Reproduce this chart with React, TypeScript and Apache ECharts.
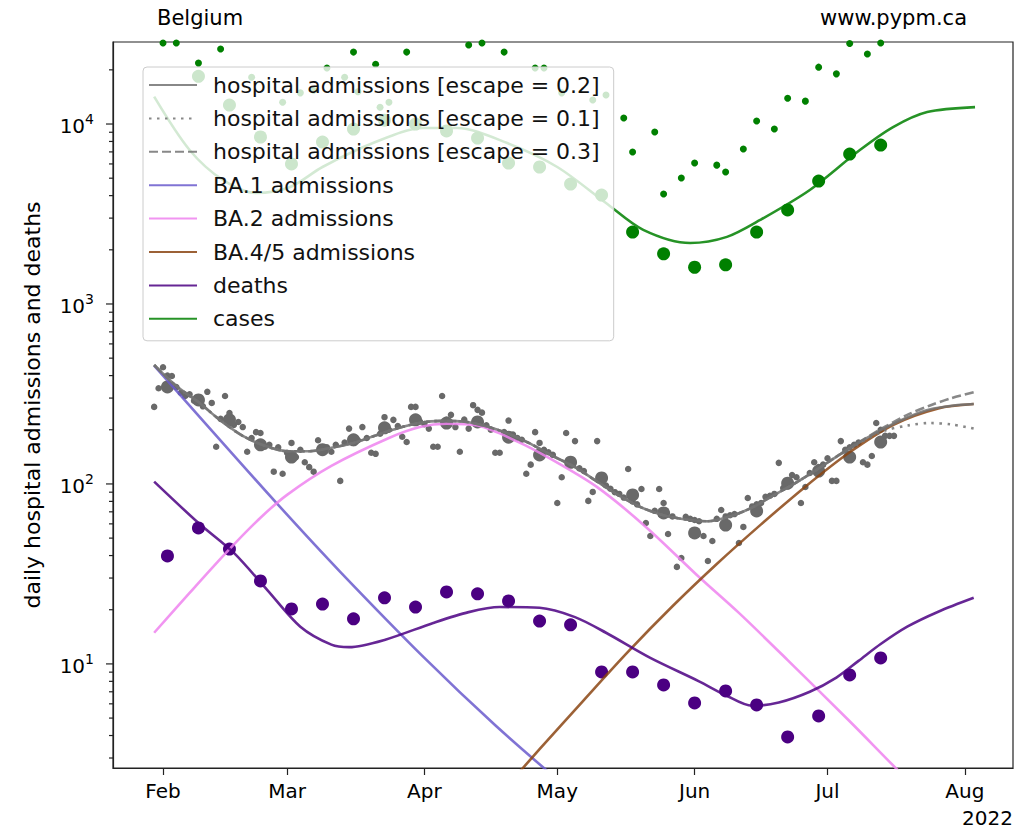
import React, { useEffect, useRef } from 'react';
import * as echarts from 'echarts';

const FONT = 'DejaVu Sans';
const DAY = 86400000;
const T0 = Date.UTC(2022, 1, 1); // day 0 = 1 Feb 2022
const at = (d: number) => T0 + d * DAY;

// axis ranges
const X_MIN_DAY = -11.29;
const X_MAX_DAY = 191.87;
const Y_MIN = 2.64;
const Y_MAX = 28560;
const MONTHS = ['Jan', 'Feb', 'Mar', 'Apr', 'May', 'Jun', 'Jul', 'Aug', 'Sep', 'Oct', 'Nov', 'Dec'];
const MAJOR_TICKS = [10, 100, 1000, 10000];
const MINOR_TICKS = [3, 4, 5, 6, 7, 8, 9, 20, 30, 40, 50, 60, 70, 80, 90, 200, 300, 400, 500, 600, 700, 800, 900,
  2000, 3000, 4000, 5000, 6000, 7000, 8000, 9000, 20000];

// legend names
const N_ESC2 = 'hospital admissions [escape = 0.2]';
const N_ESC1 = 'hospital admissions [escape = 0.1]';
const N_ESC3 = 'hospital admissions [escape = 0.3]';
const N_BA1 = 'BA.1 admissions';
const N_BA2 = 'BA.2 admissions';
const N_BA45 = 'BA.4/5 admissions';
const N_DEATHS = 'deaths';
const N_CASES = 'cases';

// ---- model curves (days since 1 Feb 2022) ----
const hospModelDays = [-2, 3, 8, 13, 18, 23, 28, 33, 38, 43, 48, 53, 58, 63, 68, 73, 78, 83, 88, 93, 98, 103, 108, 113, 118, 123, 128, 133, 138, 143, 148, 153, 158, 163, 168, 173, 178, 183];
const hospEsc2 = [458, 350, 285, 225, 185, 163, 152, 152, 159, 169, 186, 204, 219, 224, 222, 209, 190, 167, 143, 124, 103, 86, 74, 67, 63.5, 62, 66, 74, 87, 102, 122, 147, 175, 205, 234, 259, 272, 278];
const hospEsc1 = [458, 350, 285, 225, 185, 163, 152, 152, 159, 169, 186, 204, 219, 224, 222, 209, 190, 167, 143, 124, 103, 86, 74, 67, 63.5, 62, 66, 74, 87, 102, 122, 147, 173, 198, 211, 218, 214, 203];
const hospEsc3 = [458, 350, 285, 225, 185, 163, 152, 152, 159, 169, 186, 204, 219, 224, 222, 209, 190, 167, 143, 124, 103, 86, 74, 67, 63.5, 62, 66, 74, 87, 102, 122, 147, 176, 208, 242, 272, 300, 323];

const ba1Days = [-2, 10, 26, 40, 59, 75, 90];
const ba1Vals = [455, 211, 76.5, 32.5, 10.8, 4.56, 2.17];

const ba2Days = [-2, 6, 15, 22, 28, 38, 51, 58, 64, 71, 80, 87, 98, 109, 121, 130, 141, 155, 166, 172];
const ba2Vals = [14.9, 24.8, 43.4, 64.9, 87, 126, 180, 207, 216, 211, 172, 140, 96, 57.7, 30.4, 19.2, 10.5, 4.8, 2.55, 1.83];

const ba45Days = [78, 85, 95, 105, 115, 125, 135, 145, 155, 165, 175, 183];
const ba45Vals = [2.14, 3.36, 6.3, 11.7, 20.9, 35.9, 59.6, 96.6, 150, 214, 263, 278];

const deathModelDays = [-2, 8, 16, 23.5, 31, 38, 42, 50, 61, 69, 76, 85, 93, 100, 110, 121, 127, 133, 139, 146, 152, 157, 162, 168, 175, 183];
const deathModelVals = [103, 60.7, 41.4, 25.8, 16.1, 12.8, 12.4, 13.6, 16.9, 19.4, 20.7, 20.5, 18.2, 14.9, 10.8, 8.0, 6.7, 5.85, 6.1, 7.0, 8.4, 10.4, 12.9, 16.1, 19.5, 23.3];

const caseModelDays = [-2, 6, 13.5, 21, 28.7, 36, 47.4, 58.7, 66.4, 77.7, 89, 100, 108.4, 119, 127.3, 134.8, 146, 157.3, 164.8, 172.5, 183.3];
const caseModelVals = [14200, 7170, 4890, 4140, 4470, 5770, 7840, 9500, 9500, 7840, 5770, 3640, 2580, 2180, 2360, 2930, 4300, 7170, 9620, 11660, 12420];

// ---- observed data ----
const weeklyDays = [1, 8, 15, 22, 29, 36, 43, 50, 57, 64, 71, 78, 85, 92, 99, 106, 113, 120, 127, 134, 141, 148, 155, 162];
const hospWeekly = [346, 293, 227, 165, 141, 155, 176, 205, 227, 218, 221, 182, 145, 132, 108, 86.9, 69, 53.4, 59.1, 70.8, 101, 118, 141, 171];
const deathsWeekly = [39.8, 57, 43.5, 28.9, 20.2, 21.5, 17.8, 23.3, 20.7, 25.1, 24.5, 22.4, 17.3, 16.5, 9.03, 9.03, 7.64, 6.07, 7.08, 5.92, 3.93, 5.14, 8.69, 10.8];
const casesWeekly = [null, 18400, 12750, 8470, 6000, 7940, 9380, 10500, 10000, 9150, 8360, 6070, 5770, 4640, 4030, 2510, 1900, 1600, 1650, 2510, 3330, 4820, 6810, 7640];

const hospDailyFirstDay = -2;
const hospDaily = [268, 340, 445, 400, 398, 345, 321, 308, 315, 290, 301, 270, 325, 282, 161, 230, 308, 248, 213, 221,
  207, 151, 180, 194, 192, 161, 165, 117, 160, 114, 149, 169, 141, 155, 132, 124, 117, 175, 155, 160,
  151, 165, 104, 170, 203, 169, 175, 207, 180, 149, 147, 190, 235, 200, 227, 210, 183, 171, 268, 268,
  222, 215, 203, 161, 161, 308, 227, 242, 207, 151, 228, 203, 274, 258, 249, 212, 200, 149, 149, 194,
  225, 188, 180, 176, 114, 128, 194, 169, 155, 150, 145, 78.4, 109, 192, 135, 173, 122, 118, 80.5, 90.3,
  173, 104, 98, 94, 90, 88, 84, 121, 80, 77, 93.8, 60.7, 51.4, 71, 93.8, 78.4, 52.7, 66, 34.6, 38.8,
  65.6, 64, 63, 62, 51.4, 37.3, 48.2, 64, 71.7, 66, 67, 68, 47, 57.7, 83.6, 75, 77, 78.4, 84.8, 86,
  88, 131, 95, 97, 112, 109, 78.4, 96.2, 115, 132, 124, 128, 139, 104, 104, 173, 155, 160, 165, 170,
  132, 128, 143, 218, 200, 185, 185, 185];

const casesDailyDays = [0, 3, 8, 13, 20, 27, 31, 34, 37, 41, 43, 44, 48, 49, 51, 55, 69, 72, 77, 84, 86, 90, 97, 100,
  104, 106, 111, 113, 117, 120, 125, 127, 131, 134, 138, 141, 145, 148, 152, 155, 159, 162];
const casesDaily = [28200, 28200, 21800, 26100, 18200, 13200, 14900, 15400, 20500, 18200, 25100, 15100, 21500, 12400, 13200, 25100,
  27500, 28200, 25100, 20500, 20500, 14900, 13600, 14500, 10800, 6990, 9030, 4080, 5010, 6070, 5910, 5410, 7260, 10400,
  9380, 13900, 13400, 20700, 19000, 28000, 24500, 28200];

const pairs = (days: number[], vals: (number | null)[]) => days.map((d, i) => [at(d), vals[i]]);

function lineSeries(name: string, days: number[], vals: number[], color: string, type: any = 'solid', z = 3) {
  return {
    name,
    type: 'line',
    data: pairs(days, vals),
    symbol: 'none',
    showSymbol: false,
    smooth: 0.3,
    clip: true,
    z,
    lineStyle: { color, width: 2.6, type, opacity: 0.85 },
    itemStyle: { color },
    emphasis: { disabled: true },
  };
}

function scatterSeries(name: string, data: any[], color: string, size: number) {
  return {
    name,
    type: 'scatter',
    data,
    symbol: 'circle',
    symbolSize: size,
    itemStyle: { color, opacity: 1 },
    clip: true,
    z: 2,
    emphasis: { disabled: true },
  };
}

export default function App() {
  const ref = useRef<HTMLDivElement>(null);
  useEffect(() => {
    if (!ref.current) return;
    const chart = echarts.init(ref.current, null, { renderer: 'svg' });
    const hospDailyData = hospDaily.map((v, i) => [at(hospDailyFirstDay + i), v]);
    const yTicks = [
      ...MAJOR_TICKS.map((v) => [at(X_MIN_DAY), v, 7]),
      ...MINOR_TICKS.map((v) => [at(X_MIN_DAY), v, 4]),
    ];
    const option: any = {
      animation: false,
      useUTC: true,
      backgroundColor: '#ffffff',
      title: [
        { text: 'Belgium', left: 157, top: 7, padding: 0, textStyle: { fontFamily: FONT, fontSize: 21, fontWeight: 'normal', color: '#000' } },
        { text: 'www.pypm.ca', right: 55, top: 7, padding: 0, textStyle: { fontFamily: FONT, fontSize: 21, fontWeight: 'normal', color: '#000' } },
        { text: '2022', right: 9, top: 808, padding: 0, textStyle: { fontFamily: FONT, fontSize: 20, fontWeight: 'normal', color: '#000' } },
      ],
      grid: { left: 113, right: 9, top: 42, bottom: 64, show: true, borderColor: '#222', borderWidth: 1.2, backgroundColor: 'transparent' },
      legend: {
        data: [N_ESC2, N_ESC1, N_ESC3, N_BA1, N_BA2, N_BA45, N_DEATHS, N_CASES],
        orient: 'vertical',
        left: 143,
        top: 67,
        padding: [7, 14, 11, 5],
        itemWidth: 48,
        itemHeight: 14,
        itemGap: 11.4,
        backgroundColor: 'rgba(255,255,255,0.8)',
        borderColor: '#cccccc',
        borderWidth: 1,
        borderRadius: 4,
        selectedMode: false,
        itemStyle: { opacity: 0 },
        textStyle: { fontFamily: FONT, fontSize: 22, color: '#111', lineHeight: 22, padding: [0, 0, 0, 11] },
      },
      xAxis: {
        type: 'time',
        min: at(X_MIN_DAY),
        max: at(X_MAX_DAY),
        splitNumber: 7,
        minInterval: 28 * DAY,
        maxInterval: 31 * DAY,
        axisLine: { show: true, lineStyle: { color: '#222', width: 1.2 } },
        axisTick: { show: true, length: 7, inside: false, lineStyle: { color: '#222', width: 1.2 } },
        splitLine: { show: false },
        axisLabel: {
          fontFamily: FONT, fontSize: 20, color: '#000', margin: 13,
          showMinLabel: false, showMaxLabel: false,
          formatter: (v: number) => {
            const dt = new Date(v);
            return dt.getUTCDate() === 1 && dt.getUTCHours() === 0 ? MONTHS[dt.getUTCMonth()] : '';
          },
        },
      },
      yAxis: {
        type: 'log',
        logBase: 10,
        min: Y_MIN,
        max: Y_MAX,
        name: 'daily hospital admissions and deaths',
        nameLocation: 'middle',
        nameRotate: 90,
        nameGap: 70,
        nameTextStyle: { fontFamily: FONT, fontSize: 22, color: '#000' },
        axisLine: { show: true, lineStyle: { color: '#222', width: 1.2 } },
        axisTick: { show: false },
        splitLine: { show: false },
        minorTick: { show: false },
        axisLabel: {
          margin: 19,
          showMinLabel: false, showMaxLabel: false,
          formatter: (v: number) => {
            const e = Math.round(Math.log10(v));
            if (Math.abs(Math.log10(v) - e) > 1e-6) return '';
            return '{b|10}{s|' + e + '}';
          },
          rich: {
            b: { fontFamily: FONT, fontSize: 20, color: '#000', verticalAlign: 'bottom' },
            s: { fontFamily: FONT, fontSize: 14, color: '#000', verticalAlign: 'top', padding: [0, 0, 10, 0] },
          },
        },
      },
      series: [
        scatterSeries('hospital daily', hospDailyData, '#696969', 6.5),
        scatterSeries('hospital weekly', pairs(weeklyDays, hospWeekly), '#696969', 13),
        scatterSeries('deaths weekly', pairs(weeklyDays, deathsWeekly), '#4b0082', 13),
        scatterSeries('cases daily', pairs(casesDailyDays, casesDaily), '#008000', 7),
        scatterSeries('cases weekly', pairs(weeklyDays, casesWeekly), '#008000', 13),
        lineSeries(N_ESC2, hospModelDays, hospEsc2, '#737373', 'solid', 4),
        lineSeries(N_ESC1, hospModelDays, hospEsc1, '#737373', [2.5, 5.5], 4),
        lineSeries(N_ESC3, hospModelDays, hospEsc3, '#737373', [9, 4], 4),
        lineSeries(N_BA1, ba1Days, ba1Vals, '#6a5acd'),
        lineSeries(N_BA2, ba2Days, ba2Vals, '#ee82ee'),
        lineSeries(N_BA45, ba45Days, ba45Vals, '#8b4513'),
        lineSeries(N_DEATHS, deathModelDays, deathModelVals, '#4b0082'),
        lineSeries(N_CASES, caseModelDays, caseModelVals, '#008000'),
        {
          name: 'y ticks',
          type: 'custom',
          silent: true,
          clip: false,
          z: 5,
          data: yTicks,
          renderItem: (_p: any, api: any) => {
            const pt = api.coord([api.value(0), api.value(1)]);
            const len = api.value(2);
            return {
              type: 'line',
              shape: { x1: pt[0], y1: pt[1], x2: pt[0] - len, y2: pt[1] },
              style: { stroke: '#222', lineWidth: 1.2 },
            };
          },
        },
      ],
    };
    chart.setOption(option);
    return () => chart.dispose();
  }, []);
  return <div ref={ref} style={{ position: 'absolute', left: 0, top: 0, width: 1022, height: 832 }} />;
}
